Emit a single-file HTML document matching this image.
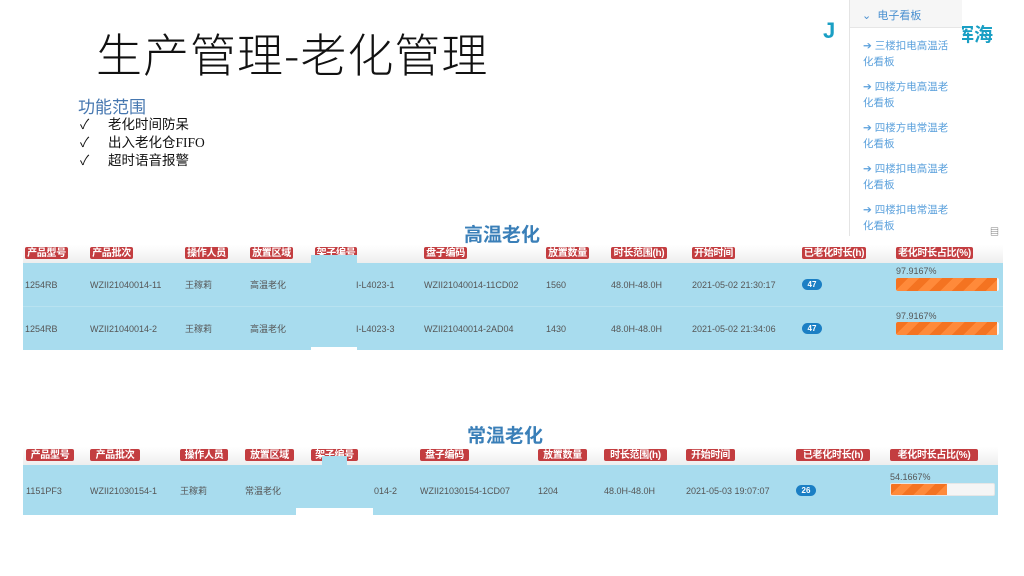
<!DOCTYPE html>
<html><head><meta charset="utf-8"><style>
*{margin:0;padding:0;box-sizing:border-box}
body{width:1024px;height:576px;position:relative;background:#fff;overflow:hidden;font-family:"Liberation Sans","Noto Sans CJK SC",sans-serif}
.a{position:absolute;white-space:nowrap}
.lb{position:absolute;height:12px;background:#c33d40;color:#fff;font-size:10px;line-height:10px;font-weight:bold;border-radius:2px;display:flex;align-items:center;justify-content:center;white-space:nowrap;overflow:hidden;letter-spacing:-0.3px}
.lb span{display:block;line-height:10px;margin-top:1px}
.t{position:absolute;font-size:9px;line-height:12px;height:12px;color:#555;white-space:nowrap}
.bd{position:absolute;width:20px;height:11px;border-radius:6px;background:#1b7fc4;color:#fff;font-size:8px;font-weight:bold;text-align:center;line-height:11px}
.bar{position:absolute;height:13px;background:#f5f5f5;border-radius:2px;overflow:hidden}
.bar div{height:100%;background:repeating-linear-gradient(-45deg,#ff8a3a 0 8px,#f47321 8px 16px)}
.hb{position:absolute;left:23px;width:980px;height:18px;background:linear-gradient(#fff,#eee)}
</style></head><body>
<div class="a" style="left:96px;top:20px;font-size:46px;font-weight:300;color:#111;font-family:'Noto Sans CJK SC',sans-serif;letter-spacing:1px">生产管理-老化管理</div>
<div class="a" style="left:78px;top:93px;font-size:17px;color:#4677b0">功能范围</div>
<div class="a" style="left:80px;top:116px;font-size:13.5px;color:#111;line-height:18px">✓&nbsp;&nbsp;&nbsp;&nbsp;&nbsp;老化时间防呆<br>✓&nbsp;&nbsp;&nbsp;&nbsp;&nbsp;出入老化仓<span style="font-family:'Liberation Serif',serif">FIFO</span><br>✓&nbsp;&nbsp;&nbsp;&nbsp;&nbsp;超时语音报警</div>

<div class="a" style="left:823px;top:18px;font-size:22px;font-weight:bold;color:#1a9fc4">J</div>
<div class="a" style="left:955px;top:20px;font-size:19px;font-weight:bold;color:#1a9fc4">珲海</div>
<div class="a" style="left:849px;top:0;width:113px;height:236px;background:#fff;border-left:1px solid #e4e4e4">
<div style="height:28px;background:#f6f6f6;border-bottom:1px solid #e6e6e6;font-size:11px;color:#4a90d0;padding:7px 0 0 12px">⌄&nbsp; 电子看板</div>
<div style="font-size:10.5px;color:#5aa0dc;line-height:16px;padding:10px 0 0 13px">
<div style="margin-bottom:9px">➔ 三楼扣电高温活<br>化看板</div>
<div style="margin-bottom:9px">➔ 四楼方电高温老<br>化看板</div>
<div style="margin-bottom:9px">➔ 四楼方电常温老<br>化看板</div>
<div style="margin-bottom:9px">➔ 四楼扣电高温老<br>化看板</div>
<div>➔ 四楼扣电常温老<br>化看板</div></div></div>
<div class="a" style="left:990px;top:225px;font-size:9px;color:#555">▤</div>

<div class="a" style="left:464px;top:220px;font-size:19px;font-weight:bold;color:#3a7fb8">高温老化</div>
<div class="hb" style="top:245px"></div>
<div class="a" style="left:23px;top:263px;width:980px;height:87px;background:#a8dcee"></div>
<div class="a" style="left:23px;top:306px;width:980px;height:1px;background:#b8e2f0"></div>
<div class="lb" style="left:25px;top:247px;width:43px"><span>产品型号</span></div>
<div class="lb" style="left:90px;top:247px;width:43px"><span>产品批次</span></div>
<div class="lb" style="left:185px;top:247px;width:43px"><span>操作人员</span></div>
<div class="lb" style="left:250px;top:247px;width:43px"><span>放置区域</span></div>
<div class="lb" style="left:315px;top:247px;width:42px"><span>架子编号</span></div>
<div class="lb" style="left:424px;top:247px;width:43px"><span>盘子编码</span></div>
<div class="lb" style="left:546px;top:247px;width:43px"><span>放置数量</span></div>
<div class="lb" style="left:611px;top:247px;width:56px"><span>时长范围(h)</span></div>
<div class="lb" style="left:692px;top:247px;width:43px"><span>开始时间</span></div>
<div class="lb" style="left:802px;top:247px;width:64px"><span>已老化时长(h)</span></div>
<div class="lb" style="left:896px;top:247px;width:77px"><span>老化时长占比(%)</span></div>
<div class="a" style="left:311px;top:255px;width:46px;height:10px;background:#a8dcee"></div>
<div class="a" style="left:311px;top:347px;width:46px;height:4px;background:#fff"></div>
<div class="t" style="left:25px;top:279px">1254RB</div><div class="t" style="left:90px;top:279px">WZII21040014-11</div><div class="t" style="left:185px;top:279px">王稼莉</div><div class="t" style="left:250px;top:279px">高温老化</div><div class="t" style="left:356px;top:279px">I-L4023-1</div><div class="t" style="left:424px;top:279px">WZII21040014-11CD02</div><div class="t" style="left:546px;top:279px">1560</div><div class="t" style="left:611px;top:279px">48.0H-48.0H</div><div class="t" style="left:692px;top:279px">2021-05-02 21:30:17</div>
<div class="bd" style="left:802px;top:279px">47</div>
<div class="t" style="left:896px;top:265px">97.9167%</div>
<div class="bar" style="left:896px;top:278px;width:103px"><div style="width:98%"></div></div>
<div class="t" style="left:25px;top:323px">1254RB</div><div class="t" style="left:90px;top:323px">WZII21040014-2</div><div class="t" style="left:185px;top:323px">王稼莉</div><div class="t" style="left:250px;top:323px">高温老化</div><div class="t" style="left:356px;top:323px">I-L4023-3</div><div class="t" style="left:424px;top:323px">WZII21040014-2AD04</div><div class="t" style="left:546px;top:323px">1430</div><div class="t" style="left:611px;top:323px">48.0H-48.0H</div><div class="t" style="left:692px;top:323px">2021-05-02 21:34:06</div>
<div class="bd" style="left:802px;top:323px">47</div>
<div class="t" style="left:896px;top:310px">97.9167%</div>
<div class="bar" style="left:896px;top:322px;width:103px"><div style="width:98%"></div></div>

<div class="a" style="left:467px;top:421px;font-size:19px;font-weight:bold;color:#3a7fb8">常温老化</div>
<div class="hb" style="top:447px;width:975px"></div>
<div class="a" style="left:23px;top:465px;width:975px;height:50px;background:#a8dcee"></div>
<div class="lb" style="left:26px;top:449px;width:48px"><span>产品型号</span></div>
<div class="lb" style="left:90px;top:449px;width:50px"><span>产品批次</span></div>
<div class="lb" style="left:180px;top:449px;width:48px"><span>操作人员</span></div>
<div class="lb" style="left:245px;top:449px;width:49px"><span>放置区域</span></div>
<div class="lb" style="left:311px;top:449px;width:47px"><span>架子编号</span></div>
<div class="lb" style="left:420px;top:449px;width:49px"><span>盘子编码</span></div>
<div class="lb" style="left:538px;top:449px;width:49px"><span>放置数量</span></div>
<div class="lb" style="left:604px;top:449px;width:63px"><span>时长范围(h)</span></div>
<div class="lb" style="left:686px;top:449px;width:49px"><span>开始时间</span></div>
<div class="lb" style="left:796px;top:449px;width:74px"><span>已老化时长(h)</span></div>
<div class="lb" style="left:890px;top:449px;width:88px"><span>老化时长占比(%)</span></div>
<div class="a" style="left:322px;top:456px;width:25px;height:10px;background:#a8dcee"></div>
<div class="a" style="left:296px;top:508px;width:77px;height:8px;background:#fff"></div>
<div class="t" style="left:26px;top:485px">1151PF3</div><div class="t" style="left:90px;top:485px">WZII21030154-1</div><div class="t" style="left:180px;top:485px">王稼莉</div><div class="t" style="left:245px;top:485px">常温老化</div><div class="t" style="left:374px;top:485px">014-2</div><div class="t" style="left:420px;top:485px">WZII21030154-1CD07</div><div class="t" style="left:538px;top:485px">1204</div><div class="t" style="left:604px;top:485px">48.0H-48.0H</div><div class="t" style="left:686px;top:485px">2021-05-03 19:07:07</div>
<div class="bd" style="left:796px;top:485px">26</div>
<div class="t" style="left:890px;top:471px">54.1667%</div>
<div class="bar" style="left:890px;top:483px;width:105px;border:1px solid #e6e6e6"><div style="width:54%"></div></div>
</body></html>
